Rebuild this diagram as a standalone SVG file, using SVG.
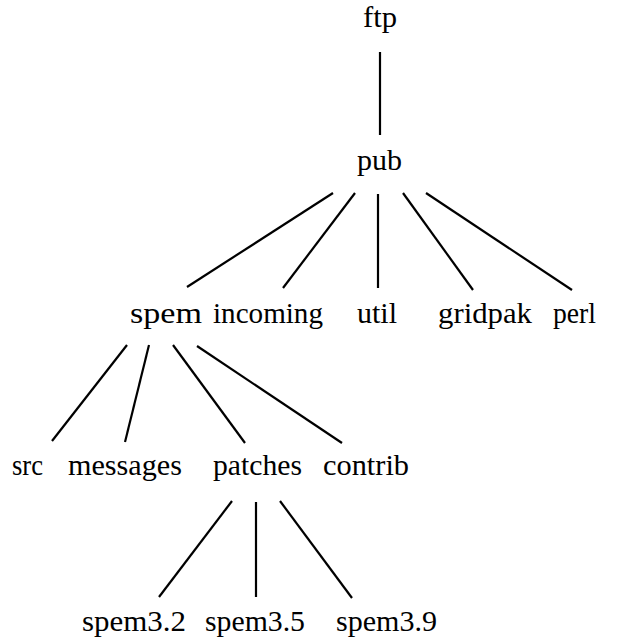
<svg xmlns="http://www.w3.org/2000/svg" width="619" height="641" viewBox="0 0 619 641">
  <style>
    .lbl { font-family: "Liberation Serif", "DejaVu Serif", serif; font-size: 30px; fill: #000; }
    .edge { stroke: #000; stroke-width: 2.2; stroke-linecap: butt; fill: none; }
  </style>
  <rect width="619" height="641" fill="#fff"/>

  <!-- tree edges -->
  <g id="connectors">
    <line class="edge" x1="380" y1="52" x2="380" y2="135"/>
    <line class="edge" x1="333" y1="193" x2="187" y2="287"/>
    <line class="edge" x1="355" y1="193" x2="283" y2="288"/>
    <line class="edge" x1="378" y1="194" x2="378" y2="288"/>
    <line class="edge" x1="403" y1="193" x2="473" y2="290"/>
    <line class="edge" x1="426" y1="193" x2="572" y2="290"/>
    <line class="edge" x1="127" y1="345" x2="52" y2="441"/>
    <line class="edge" x1="149" y1="345" x2="125" y2="442"/>
    <line class="edge" x1="173" y1="345" x2="245" y2="443"/>
    <line class="edge" x1="197" y1="346" x2="342" y2="443"/>
    <line class="edge" x1="232" y1="501" x2="159" y2="597"/>
    <line class="edge" x1="256" y1="502" x2="256" y2="597"/>
    <line class="edge" x1="280" y1="501" x2="352" y2="598"/>
  </g>

  <!-- directory nodes -->
  <g id="ftp"><text class="lbl" x="363" y="27" textLength="34" lengthAdjust="spacingAndGlyphs">ftp</text></g>
  <g id="pub"><text class="lbl" x="357" y="170" textLength="45" lengthAdjust="spacingAndGlyphs">pub</text></g>

  <g id="spem"><text class="lbl" x="130" y="323" textLength="72" lengthAdjust="spacingAndGlyphs">spem</text></g>
  <g id="incoming"><text class="lbl" x="213" y="323" textLength="110" lengthAdjust="spacingAndGlyphs">incoming</text></g>
  <g id="util"><text class="lbl" x="357" y="323" textLength="40" lengthAdjust="spacingAndGlyphs">util</text></g>
  <g id="gridpak"><text class="lbl" x="438" y="323" textLength="94" lengthAdjust="spacingAndGlyphs">gridpak</text></g>
  <g id="perl"><text class="lbl" x="553" y="323" textLength="43" lengthAdjust="spacingAndGlyphs">perl</text></g>

  <g id="src"><text class="lbl" x="12" y="475" textLength="31" lengthAdjust="spacingAndGlyphs">src</text></g>
  <g id="messages"><text class="lbl" x="68" y="475" textLength="114" lengthAdjust="spacingAndGlyphs">messages</text></g>
  <g id="patches"><text class="lbl" x="213" y="475" textLength="89" lengthAdjust="spacingAndGlyphs">patches</text></g>
  <g id="contrib"><text class="lbl" x="323" y="475" textLength="86" lengthAdjust="spacingAndGlyphs">contrib</text></g>

  <g id="spem3.2"><text class="lbl" x="82" y="631" textLength="104" lengthAdjust="spacingAndGlyphs">spem3.2</text></g>
  <g id="spem3.5"><text class="lbl" x="205" y="631" textLength="100" lengthAdjust="spacingAndGlyphs">spem3.5</text></g>
  <g id="spem3.9"><text class="lbl" x="336" y="631" textLength="101" lengthAdjust="spacingAndGlyphs">spem3.9</text></g>
</svg>
